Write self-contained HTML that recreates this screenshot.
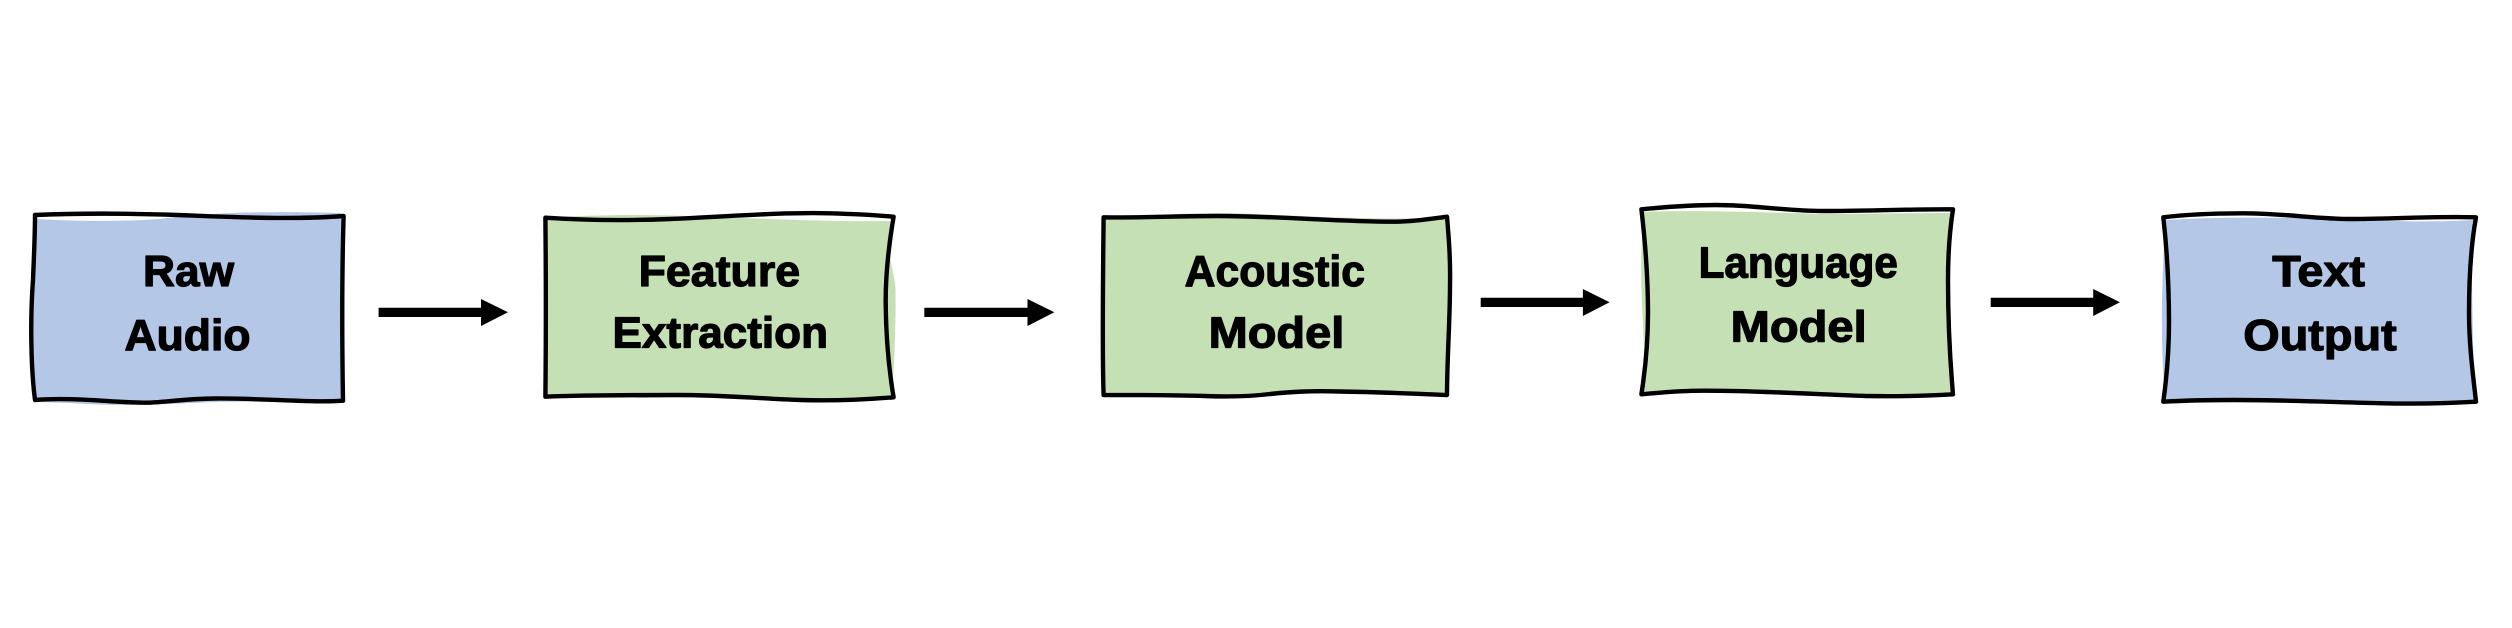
<!DOCTYPE html>
<html>
<head>
<meta charset="utf-8">
<style>
html,body{margin:0;padding:0;background:#fff;width:2512px;height:628px;overflow:hidden}
svg{display:block}
text{font-family:"Liberation Sans",sans-serif;font-weight:bold;font-size:44px;fill:#000;stroke:#000;stroke-width:1.2px;stroke-linejoin:round}
.o{fill:none;stroke:#000;stroke-width:4.4;stroke-linejoin:round;stroke-linecap:round}
.b{fill:#B4C7E7;stroke:none}
.g{fill:#C5E0B4;stroke:none}
</style>
</head>
<body>
<svg width="2512" height="628" viewBox="0 0 2512 628" xmlns="http://www.w3.org/2000/svg">
<rect width="2512" height="628" fill="#fff"/>

<!-- Box 1 -->
<path class="b" d="M36 219 C70 221 120 222 160 219 C210 212 270 211 341 213 L342 300 L341 399 C300 403 260 401 214 402 C170 404 120 407 70 403 L36 402 C32 350 31 300 36 219 Z"/>
<path class="o" d="M35 215 C70 213.5 120 213 178 215 C230 217 290 220 343.6 216 C342 270 342 340 343 400.7 C310 403 260 398 214 398.5 C180 399 160 403 143 402.7 C110 402 70 397 35 400 C31 370 30 320 33 280 C34 255 35 235 35 215 Z"/>
<text x="143" y="286" textLength="91" lengthAdjust="spacingAndGlyphs">Raw</text>
<text x="124.5" y="350" textLength="126" lengthAdjust="spacingAndGlyphs">Audio</text>

<!-- Arrow 1 -->
<path d="M378.6 307.7 H481 V299 L508 312.3 L481 326 V317 H378.6 Z" fill="#000"/>

<!-- Box 2 -->
<path class="g" d="M547 218 C580 215 640 214 690 216 C750 218 820 222 890 221 C886 260 895 270 895.5 290 C896 340 893 380 892 396 C860 400 800 402 740 398 C680 396 600 400 547 397 Z"/>
<path class="o" d="M545.4 217.7 C580 220 620 221 670 219 C720 217 780 212 830 213.3 C855 214 875 215 893.6 216.7 C888 250 885.5 280 885.7 303 C886 340 889 370 893.6 397.3 C860 400 830 401 800 400 C750 398 720 395 678 395 C630 395 590 395 545.4 396.7 C546 340 546 280 545.4 217.7 Z"/>
<text x="638.6" y="286" textLength="161.5" lengthAdjust="spacingAndGlyphs">Feature</text>
<text x="612.5" y="347.7" textLength="215.5" lengthAdjust="spacingAndGlyphs">Extraction</text>

<!-- Arrow 2 -->
<path d="M924.3 307.7 H1027.5 V299 L1054.3 312.3 L1027.5 326 V317 H924.3 Z" fill="#000"/>

<!-- Box 3 -->
<path class="g" d="M1105 218 C1140 215 1190 213 1230 213 C1290 215 1350 220 1445 218 L1450 280 L1446 394 C1380 396 1310 392 1270 394 C1220 399 1170 396 1104 394 Z"/>
<path class="o" d="M1103.6 217.3 C1140 218 1180 216 1218 216 C1280 216 1340 222 1397 221.7 C1415 221.5 1430 219 1447 216.7 C1449 240 1450.5 260 1450 285 C1450 320 1447 360 1447 395 C1420 394 1380 392 1340 391.5 C1310 390.5 1290 392 1270 394 C1250 396.5 1230 397 1205 396 C1170 395 1135 395 1103.6 395 C1102 350 1103 280 1103.6 217.3 Z"/>
<text x="1184.6" y="286" textLength="180.4" lengthAdjust="spacingAndGlyphs">Acoustic</text>
<text x="1208.6" y="347.7" textLength="135.7" lengthAdjust="spacingAndGlyphs">Model</text>

<!-- Arrow 3 -->
<path d="M1480.7 297.7 H1582.9 V289 L1609.6 302.3 L1582.9 316 V307 H1480.7 Z" fill="#000"/>

<!-- Box 4 -->
<path class="g" d="M1644 212 C1680 210 1760 212 1823 214 C1870 214 1910 213 1950 213 C1945 260 1950 340 1952 392 C1900 397 1860 398 1810 393 C1770 390 1700 390 1643 392 C1648 340 1636 290 1644 212 Z"/>
<path class="o" d="M1641.4 209.3 C1665 207 1690 205 1716 205 C1755 205 1785 211 1823 211 C1865 211 1910 209 1953 209.3 C1949 235 1948 260 1948 280 C1948 320 1950 360 1953 394.3 C1925 396 1895 396.5 1866 396 C1810 394 1760 390.7 1705 390.7 C1685 390.7 1665 392 1641.4 394.3 C1646 365 1648 340 1648 313 C1648 280 1645 240 1641.4 209.3 Z"/>
<text x="1698.6" y="277.3" textLength="199.3" lengthAdjust="spacingAndGlyphs">Language</text>
<text x="1730.7" y="341.7" textLength="136" lengthAdjust="spacingAndGlyphs">Model</text>

<!-- Arrow 4 -->
<path d="M1990.7 297.7 H2093.2 V289 L2120 302.3 L2093.2 316 V307 H1990.7 Z" fill="#000"/>

<!-- Box 5 -->
<path class="b" d="M2166 220 C2210 217 2270 217 2340 219 C2390 222 2440 222 2473 220 C2470 260 2474 350 2474 400 C2440 402 2380 405 2330 402 C2280 400 2220 400 2166 400 C2161 370 2160 290 2166 220 Z"/>
<path class="o" d="M2163.3 217.3 C2190 214 2215 213.3 2243 213.3 C2285 213.3 2315 219 2353 219 C2395 219 2435 216 2476 217.3 C2471 245 2469 280 2469 313 C2469 345 2473 375 2476 401.7 C2445 403.5 2415 404 2383 403.3 C2330 402 2285 400 2233 400 C2210 400 2185 400.5 2163.3 401.7 C2167 375 2169 350 2169 323 C2169 285 2167 250 2163.3 217.3 Z"/>
<text x="2272.3" y="286" textLength="92.7" lengthAdjust="spacingAndGlyphs">Text</text>
<text x="2243.3" y="350" textLength="153.4" lengthAdjust="spacingAndGlyphs">Output</text>
</svg>
</body>
</html>
